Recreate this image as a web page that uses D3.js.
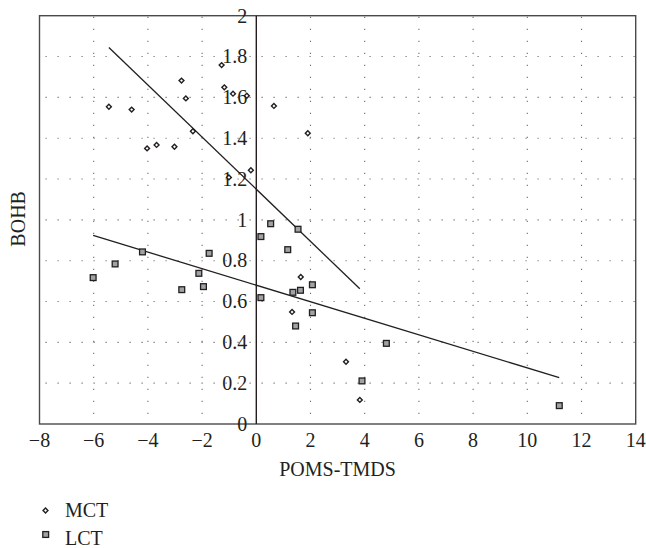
<!DOCTYPE html>
<html>
<head>
<meta charset="utf-8">
<script src="https://cdn.jsdelivr.net/npm/d3@7"></script>
<style>
  html, body { margin: 0; padding: 0; background: #fff; }
  svg text { font-family: "Liberation Serif", "DejaVu Serif", serif; fill: #231f20; }
</style>
</head>
<body>
<svg id="chart" width="646" height="548"></svg>
<script>
// MCT group: POMS-TMDS vs BOHB
const mctX = [-5.44, -4.60, -4.03, -3.68, -3.02, -2.76, -2.60, -2.34, -1.28, -1.18,
              -0.86, -0.35, -1.01, -0.20, 0.65, 1.90, 1.64, 1.32, 3.31, 3.82];
const mctY = [1.554, 1.540, 1.350, 1.367, 1.358, 1.682, 1.595, 1.434, 1.758, 1.649,
              1.618, 1.608, 1.208, 1.243, 1.558, 1.424, 0.720, 0.549, 0.305, 0.118];

// LCT group
const lctX = [-6.02, -5.21, -4.20, -2.75, -2.12, -1.95, -1.74, 0.17, 0.53, 1.54,
              1.16, 0.17, 1.35, 1.63, 2.07, 2.07, 1.45, 4.80, 3.90, 11.18];
const lctY = [0.717, 0.784, 0.843, 0.658, 0.738, 0.673, 0.836, 0.918, 0.981, 0.954,
              0.854, 0.619, 0.645, 0.655, 0.682, 0.545, 0.480, 0.395, 0.211, 0.090];

// Linear trend lines: [intercept, slope]
const mctTrend = [1.150, -0.1277];
const lctTrend = [0.680, -0.0405];

// Axis ticks and labels
const xTicks = [-8, -6, -4, -2, 0, 2, 4, 6, 8, 10, 12, 14];
const yTicks = [0, 0.2, 0.4, 0.6, 0.8, 1, 1.2, 1.4, 1.6, 1.8, 2];
const seriesNames = ["MCT", "LCT"];
const xTitle = "POMS-TMDS";
const yTitle = "BOHB";

(function () {
  const svg = d3.select("#chart");
  const L = 39.5, R = 635.7, T = 15.7, B = 424;
  const x = d3.scaleLinear().domain([-8, 14]).range([L, R]);
  const y = d3.scaleLinear().domain([0, 2]).range([B, T]);
  const fs = 20;

  // dotted grid
  const grid = svg.append("g").attr("stroke", "#6f6f6f").attr("stroke-width", 1.1)
    .attr("stroke-dasharray", "1.2,10.8");
  grid.selectAll(".h").data(yTicks.filter(d => d > 0 && d < 2)).join("line")
    .attr("x1", L + 6).attr("x2", R)
    .attr("y1", d => y(d)).attr("y2", d => y(d));
  grid.selectAll(".v").data(xTicks.filter(d => d !== 0 && d > -8 && d < 14)).join("line")
    .attr("x1", d => x(d)).attr("x2", d => x(d))
    .attr("y1", T + 1).attr("y2", B);

  // plot frame
  svg.append("rect").attr("x", L).attr("y", T)
    .attr("width", R - L).attr("height", B - T)
    .attr("fill", "none").attr("stroke", "#4a4a4a").attr("stroke-width", 1.4);

  // y axis at x = 0
  svg.append("line").attr("x1", x(0)).attr("x2", x(0)).attr("y1", T).attr("y2", B)
    .attr("stroke", "#231f20").attr("stroke-width", 1.4);

  // tick labels
  const fmt = d => d3.format("~g")(d).replace("-", "\u2212");
  svg.append("g").selectAll("text").data(yTicks).join("text")
    .attr("x", x(0) - 9).attr("y", d => y(d)).attr("dy", "0.34em")
    .attr("text-anchor", "end").attr("font-size", fs)
    .text(fmt);
  svg.append("g").selectAll("text").data(xTicks).join("text")
    .attr("x", d => x(d)).attr("y", 447)
    .attr("text-anchor", "middle").attr("font-size", fs)
    .text(fmt);

  // axis titles
  svg.append("text").attr("x", (L + R) / 2).attr("y", 476)
    .attr("text-anchor", "middle").attr("font-size", fs).text(xTitle);
  svg.append("text").attr("transform", `translate(25,${(T + B) / 2 - 1}) rotate(-90)`)
    .attr("text-anchor", "middle").attr("font-size", fs).text(yTitle);

  // trend lines across each group's x range
  function trend(xs, coef) {
    const [a, b] = d3.extent(xs);
    return [[a, coef[0] + coef[1] * a], [b, coef[0] + coef[1] * b]];
  }
  const line = d3.line().x(d => x(d[0])).y(d => y(d[1]));
  [[mctX, mctTrend], [lctX, lctTrend]].forEach(([xs, c]) => {
    svg.append("path").attr("d", line(trend(xs, c)))
      .attr("fill", "none").attr("stroke", "#231f20").attr("stroke-width", 1.3);
  });

  // markers
  const diamond = d3.symbol().type(d3.symbolSquare).size(12);
  function drawDiamond(g, cx, cy) {
    g.append("path").attr("d", diamond())
      .attr("transform", `translate(${cx},${cy}) rotate(45)`)
      .attr("fill", "#fff").attr("stroke", "#231f20").attr("stroke-width", 1.4);
  }
  function drawSquare(g, cx, cy) {
    g.append("rect").attr("x", cx - 2.9).attr("y", cy - 2.9)
      .attr("width", 5.8).attr("height", 5.8)
      .attr("fill", "#a0a2a5").attr("stroke", "#231f20").attr("stroke-width", 1.3);
  }

  const lctG = svg.append("g");
  lctX.forEach((v, i) => drawSquare(lctG, x(v), y(lctY[i])));
  const mctG = svg.append("g");
  mctX.forEach((v, i) => drawDiamond(mctG, x(v), y(mctY[i])));

  // legend
  const lg = svg.append("g");
  drawDiamond(lg, 45.5, 510.5);
  drawSquare(lg, 45.7, 534.5);
  lg.append("text").attr("x", 65).attr("y", 516.5).attr("font-size", fs).text(seriesNames[0]);
  lg.append("text").attr("x", 65).attr("y", 545).attr("font-size", fs).text(seriesNames[1]);
})();
</script>
</body>
</html>
